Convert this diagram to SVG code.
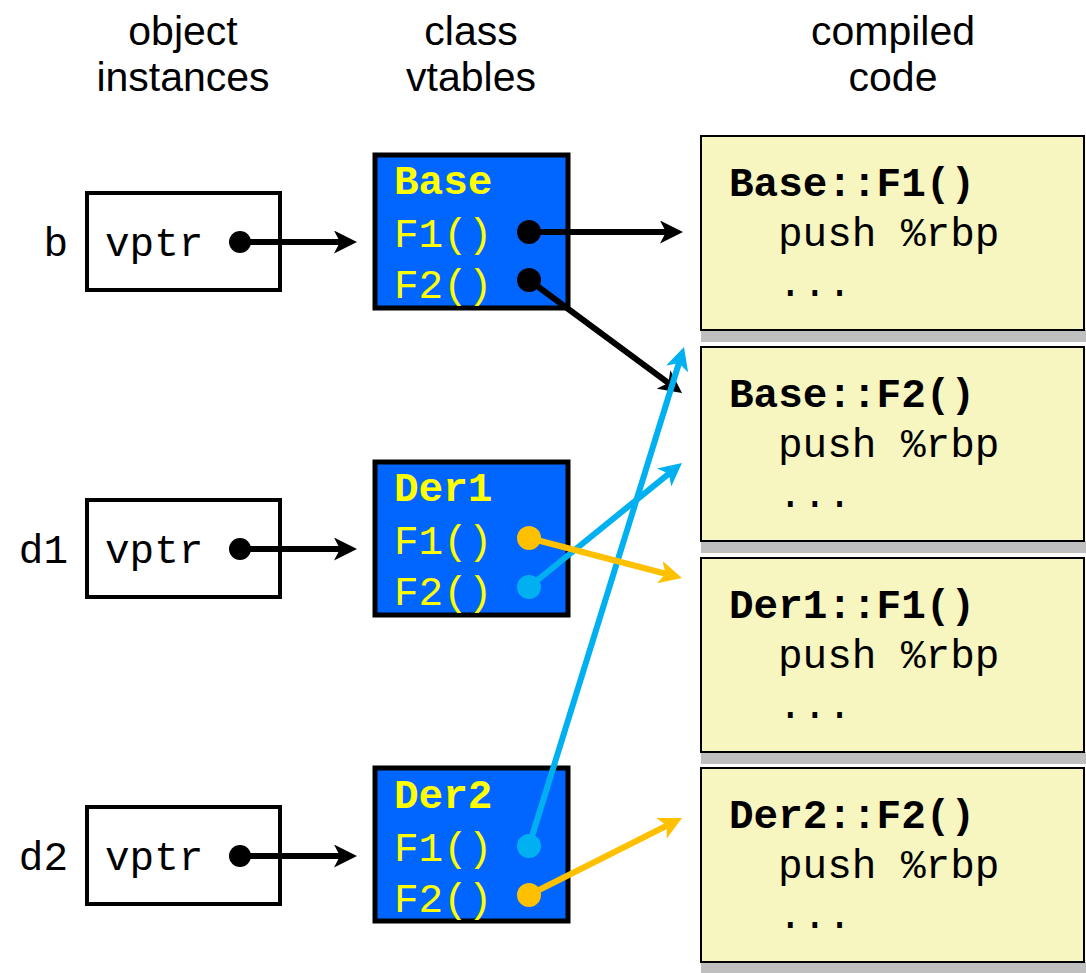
<svg xmlns="http://www.w3.org/2000/svg" width="1086" height="973" viewBox="0 0 1086 973">
<style>
.hdr{font-family:"Liberation Sans",Arial,sans-serif;font-size:41px;fill:#000;text-anchor:middle}
.mono{font-family:"Liberation Mono","Courier New",monospace;font-size:41px}
.bold{font-weight:bold}
.obj{fill:#fff;stroke:#000;stroke-width:4}
.vt{fill:#0066FF;stroke:#000;stroke-width:5}
.vtt{fill:#FFFF00}
.code{fill:#F7F5C0;stroke:#000;stroke-width:2}
.shadow{fill:#BFBFBF}
.blk{stroke:#000;stroke-width:6;fill:none}
.cy{stroke:#00B0F0;stroke-width:6;fill:none}
.or{stroke:#FFC000;stroke-width:6;fill:none}
</style>
<defs>
<marker id="ah-k" markerUnits="userSpaceOnUse" viewBox="0 0 23 23" markerWidth="23" markerHeight="23" refX="13" refY="11.5" orient="auto"><path d="M0,0 L23,11.5 L0,23 L6,11.5 z" fill="#000"/></marker>
<marker id="ah-c" markerUnits="userSpaceOnUse" viewBox="0 0 23 23" markerWidth="23" markerHeight="23" refX="13" refY="11.5" orient="auto"><path d="M0,0 L23,11.5 L0,23 L6,11.5 z" fill="#00B0F0"/></marker>
<marker id="ah-o" markerUnits="userSpaceOnUse" viewBox="0 0 23 23" markerWidth="23" markerHeight="23" refX="13" refY="11.5" orient="auto"><path d="M0,0 L23,11.5 L0,23 L6,11.5 z" fill="#FFC000"/></marker>
</defs>
<rect width="1086" height="973" fill="#fff"/>
<g id="headers">
<text class="hdr" x="183" y="44.5">object</text>
<text class="hdr" x="183" y="90.5">instances</text>
<text class="hdr" x="471" y="44.5">class</text>
<text class="hdr" x="471" y="90.5">vtables</text>
<text class="hdr" x="893" y="44.5">compiled</text>
<text class="hdr" x="893" y="90.5">code</text>
</g>
<g id="obj-b">
<text class="mono" x="68" y="256" text-anchor="end">b</text>
<rect class="obj" x="87" y="193" width="193" height="97"/>
<text class="mono" x="105" y="256">vptr</text>
</g>
<g id="obj-d1">
<text class="mono" x="68" y="563" text-anchor="end">d1</text>
<rect class="obj" x="87" y="500" width="193" height="97"/>
<text class="mono" x="105" y="563">vptr</text>
</g>
<g id="obj-d2">
<text class="mono" x="68" y="870" text-anchor="end">d2</text>
<rect class="obj" x="87" y="807" width="193" height="97"/>
<text class="mono" x="105" y="870">vptr</text>
</g>
<g id="vt-base">
<rect class="vt" x="375" y="155" width="193" height="153"/>
<text class="mono bold vtt" x="394" y="194">Base</text>
<text class="mono vtt" x="394" y="247">F1()</text>
<text class="mono vtt" x="394" y="298">F2()</text>
</g>
<g id="vt-der1">
<rect class="vt" x="375" y="462" width="193" height="153"/>
<text class="mono bold vtt" x="394" y="501">Der1</text>
<text class="mono vtt" x="394" y="554">F1()</text>
<text class="mono vtt" x="394" y="605">F2()</text>
</g>
<g id="vt-der2">
<rect class="vt" x="375" y="768" width="193" height="153"/>
<text class="mono bold vtt" x="394" y="808">Der2</text>
<text class="mono vtt" x="394" y="861">F1()</text>
<text class="mono vtt" x="394" y="912">F2()</text>
</g>
<g id="code-base-f1">
<rect class="shadow" x="701" y="330" width="385" height="12"/>
<rect class="code" x="701" y="136" width="383" height="194"/>
<text class="mono bold" x="729" y="196">Base::F1()</text>
<text class="mono" x="778" y="246">push %rbp</text>
<text class="mono" x="778" y="296">...</text>
</g>
<g id="code-base-f2">
<rect class="shadow" x="701" y="541" width="385" height="12"/>
<rect class="code" x="701" y="347" width="383" height="194"/>
<text class="mono bold" x="729" y="407">Base::F2()</text>
<text class="mono" x="778" y="457">push %rbp</text>
<text class="mono" x="778" y="507">...</text>
</g>
<g id="code-der1-f1">
<rect class="shadow" x="701" y="752" width="385" height="12"/>
<rect class="code" x="701" y="558" width="383" height="194"/>
<text class="mono bold" x="729" y="618">Der1::F1()</text>
<text class="mono" x="778" y="668">push %rbp</text>
<text class="mono" x="778" y="718">...</text>
</g>
<g id="code-der2-f2">
<rect class="shadow" x="701" y="962" width="385" height="12"/>
<rect class="code" x="701" y="768" width="383" height="194"/>
<text class="mono bold" x="729" y="828">Der2::F2()</text>
<text class="mono" x="778" y="878">push %rbp</text>
<text class="mono" x="778" y="928">...</text>
</g>
<g id="connectors">
<line class="blk" x1="240" y1="242" x2="347" y2="242" marker-end="url(#ah-k)"/>
<circle cx="240" cy="242" r="11" fill="#000"/>
<line class="blk" x1="240" y1="549" x2="347" y2="549" marker-end="url(#ah-k)"/>
<circle cx="240" cy="549" r="11" fill="#000"/>
<line class="blk" x1="240" y1="856" x2="347" y2="856" marker-end="url(#ah-k)"/>
<circle cx="240" cy="856" r="11" fill="#000"/>
<line class="blk" x1="529" y1="232" x2="673" y2="232" marker-end="url(#ah-k)"/>
<circle cx="529" cy="232" r="12" fill="#000"/>
<line class="blk" x1="529" y1="280" x2="674" y2="387.1" marker-end="url(#ah-k)"/>
<circle cx="529" cy="280" r="12" fill="#000"/>
<line class="cy" x1="529" y1="846" x2="681" y2="356.5" marker-end="url(#ah-c)"/>
<circle cx="529" cy="846" r="12" fill="#00B0F0"/>
<line class="cy" x1="529" y1="587" x2="674.2" y2="469.3" marker-end="url(#ah-c)"/>
<circle cx="529" cy="587" r="12" fill="#00B0F0"/>
<line class="or" x1="529" y1="538" x2="672.3" y2="575.5" marker-end="url(#ah-o)"/>
<circle cx="529" cy="538" r="12" fill="#FFC000"/>
<line class="or" x1="529" y1="895" x2="673.1" y2="822.5" marker-end="url(#ah-o)"/>
<circle cx="529" cy="895" r="12" fill="#FFC000"/>
</g>
</svg>
